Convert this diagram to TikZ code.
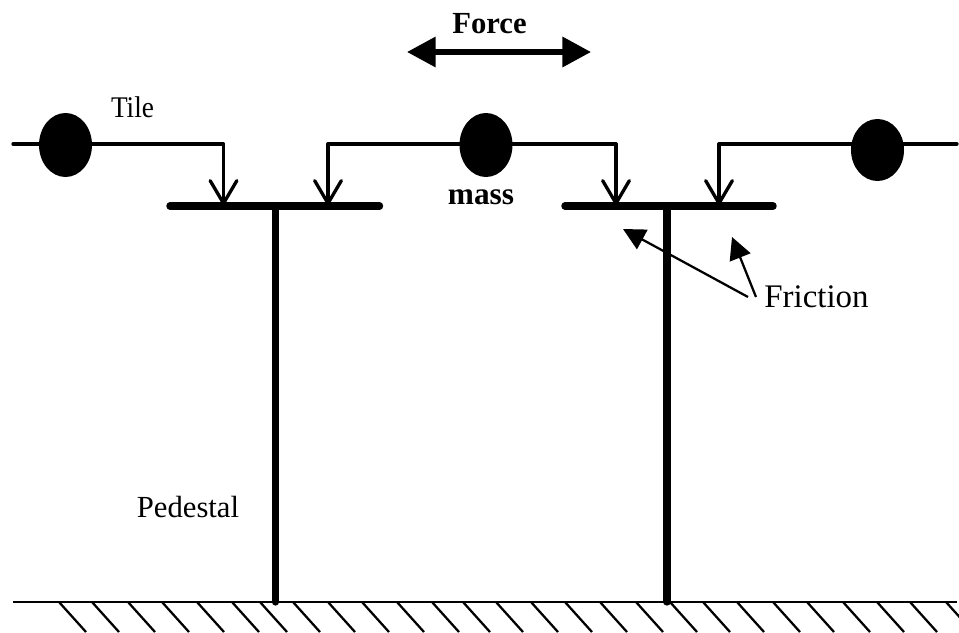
\documentclass[tikz,border=0pt]{standalone}
\usepackage{fontspec}
\setmainfont{Liberation Serif}
\usetikzlibrary{arrows.meta,shapes.geometric}
\tikzset{
  px/.style={x=0.75pt,y=-0.75pt},
  tile/.style={draw=none,fill=black,ellipse,minimum width=39.75pt,minimum height=48pt,inner sep=0pt},
  wire/.style={line width=2.5pt,line cap=round,line join=round},
  plate/.style={line width=5.6pt,line cap=round},
  post/.style={line width=5.4pt,line cap=round},
  vee/.style={-{Straight Barb[length=17pt,width=20pt,line width=2.5pt,round]}},
  solid tip/.style={-{Triangle[length=16.5pt,width=16.5pt]}},
  thin line/.style={line width=1.7pt},
  lab/.style={inner sep=0pt,anchor=base}
}
\begin{document}
\begin{tikzpicture}[px]
\useasboundingbox (0,0) rectangle (959,632);
\clip (0,0) rectangle (959,632);
% named points
\coordinate (wl) at (13,144);
\coordinate (wlc) at (223.5,144);
\coordinate (al) at (223.5,205);
\coordinate (wmlc) at (328,144);
\coordinate (aml) at (328,205);
\coordinate (wmrc) at (616,144);
\coordinate (amr) at (616,205);
\coordinate (wrlc) at (719,144);
\coordinate (arl) at (719,205);
\coordinate (wr) at (957,144);
% wires
\draw[wire,vee] (wl) -- (wlc) -- (al);
\draw[wire,vee] (wmrc) -- (wmlc) -- (aml);
\draw[wire,vee] (wmrc) -- (amr);
\draw[wire,vee] (wr) -- (wrlc) -- (arl);
% tile masses
\node[tile] (t1) at (65.5,145) {};
\node[tile] (t2) at (486,145) {};
\node[tile,minimum height=46.5pt] (t3) at (877.5,150) {};
% plates and posts
\coordinate (p1l) at (170,206); \coordinate (p1r) at (379.5,206);
\coordinate (p2l) at (565,206); \coordinate (p2r) at (773,206);
\coordinate (g1) at (275.5,602); \coordinate (g2) at (667,602);
\draw[plate] (p1l) -- (p1r);
\draw[plate] (p2l) -- (p2r);
\draw[post] (g1 |- p1l) -- (g1);
\draw[post] (g2 |- p2l) -- (g2);
% ground
\coordinate (gl) at (13,602); \coordinate (gr) at (957,602);
\draw[thin line] (gl) -- (gr);
\foreach \x in {59,92,128,162,197,232,260,293,328,362,397,432,463,496,531,565,600,636,670,703,737,773,807,843,877,910,946}
  \draw[thin line] (\x,602) -- ++(27,30);
% force arrow
\coordinate (fl) at (407,52); \coordinate (fr) at (591,52);
\draw[line width=4.2pt,{Triangle[length=21.5pt,width=22pt]}-{Triangle[length=21.5pt,width=22pt]}] (fl) -- (fr);
% friction arrows
\coordinate (fa) at (623,229); \coordinate (fb) at (732,237);
\coordinate (f1) at (748,297); \coordinate (f2) at (756,297);
\draw[thin line,solid tip] (f1) -- (fa);
\draw[thin line,solid tip] (f2) -- (fb);
% labels
\node[lab,font=\fontsize{22.5pt}{24pt}\selectfont] (tile) at (132.5,117) {\scalebox{0.91}[1]{Tile}};
\node[lab,font=\fontsize{23pt}{25pt}\selectfont\bfseries] (force) at (489.5,33) {Force};
\node[lab,font=\fontsize{23.5pt}{25pt}\selectfont\bfseries] (mass) at (481,204) {mass};
\node[lab,font=\fontsize{24.7pt}{26pt}\selectfont] (friction) at (816.5,307) {Friction};
\node[lab,font=\fontsize{23pt}{25pt}\selectfont] (ped) at (188,517) {Pedestal};
\end{tikzpicture}
\end{document}
